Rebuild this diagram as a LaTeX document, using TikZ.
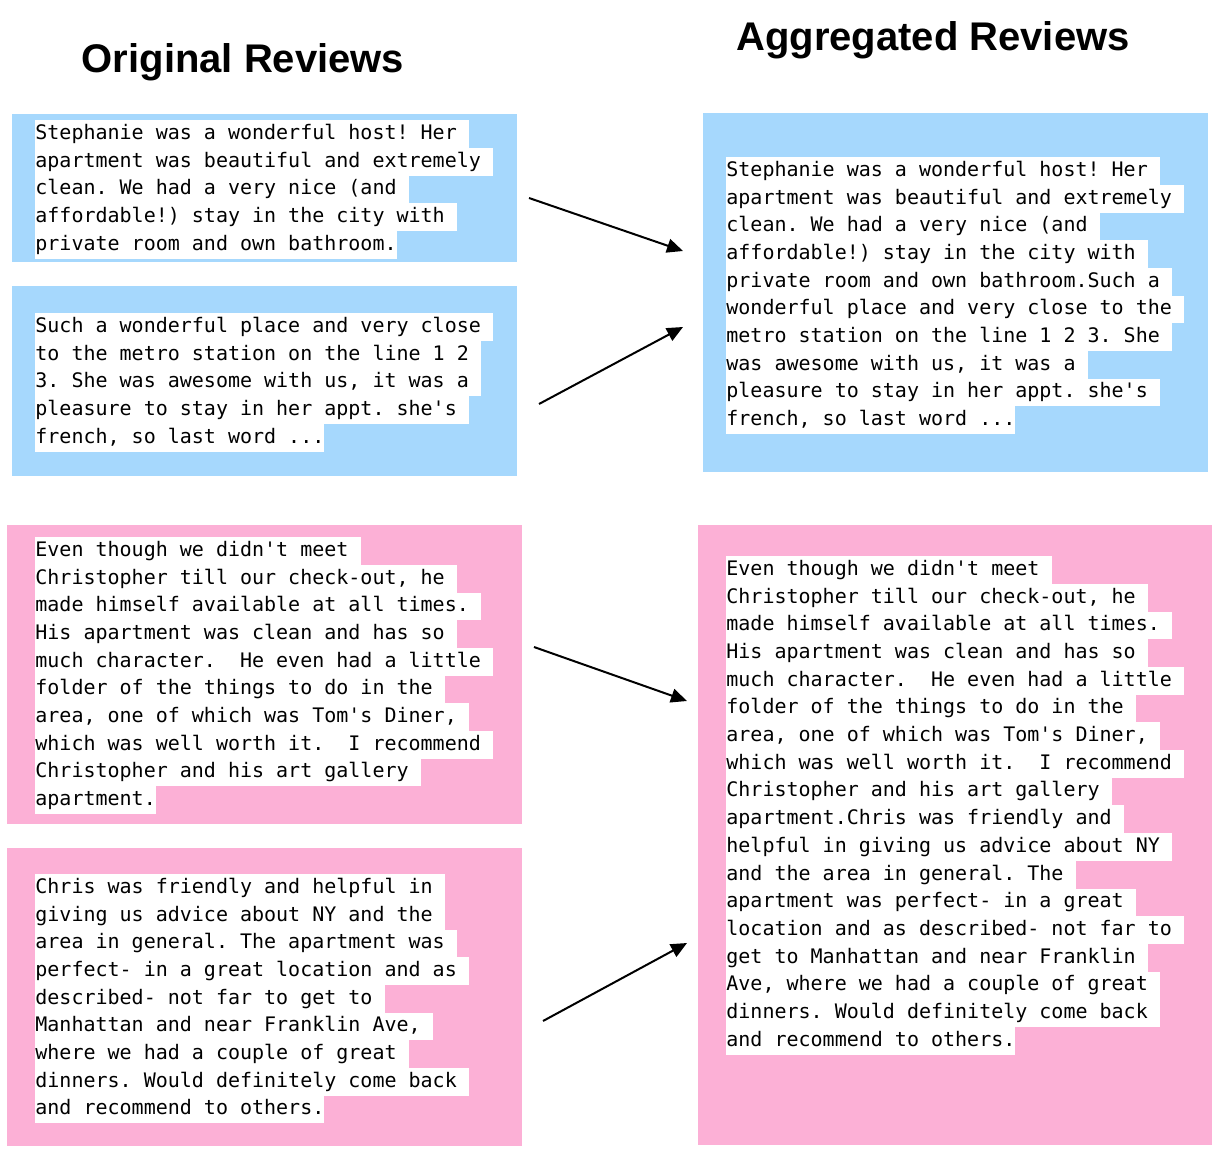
\documentclass[tikz,border=0pt]{standalone}
\usepackage{fontspec}
\setmainfont{Liberation Sans}
\setmonofont{DejaVu Sans Mono}
\usetikzlibrary{arrows.meta}

\definecolor{revblue}{RGB}{166,216,253}
\definecolor{revpink}{RGB}{252,176,214}

\tikzset{
  revline/.style={anchor=west, fill=white, inner sep=0pt, text height=9.6pt, text depth=4.25pt,
    font=\ttfamily\fontsize{10}{12}\selectfont, text=black, yshift=-1pt},
  revtitle/.style={font=\bfseries\fontsize{20}{24}\selectfont},
  revarrow/.style={line width=1pt, -{Triangle[length=8pt, width=7pt]}}
}

% lines of one review: name, x, y of first line, list of lines
\newcommand{\reviewtext}[4]{%
  \foreach \txt [count=\i] in {#4}
    \node[revline] (#1\i) at (#2, {#3+(\i-1)*27.7}) {\txt};
}
\newcommand{\revdots}{...}
\newcommand{\revsp}{\hbox{\ }}

\begin{document}
\begin{tikzpicture}[x=0.5pt, y=-0.5pt]
  \useasboundingbox (0,0) rectangle (1230,1166);

  \node[revtitle] (TO) at (243,62) {Original Reviews};
  \node[revtitle] (TA) at (933,40) {Aggregated Reviews};

  \fill[revblue] (12,114) rectangle (517,262);
  \fill[revblue] (12,286) rectangle (517,476);
  \fill[revblue] (703,113) rectangle (1208,472);
  \fill[revpink] (7,525) rectangle (522,824);
  \fill[revpink] (7,848) rectangle (522,1146);
  \fill[revpink] (698,525) rectangle (1212,1145);

  \reviewtext{b}{35}{132}{
    {Stephanie was a wonderful host! Her\revsp},
    {apartment was beautiful and extremely\revsp},
    {clean. We had a very nice (and\revsp},
    {affordable!) stay in the city with\revsp},
    {private room and own bathroom.}}

  \reviewtext{c}{35}{325}{
    {Such a wonderful place and very close\revsp},
    {to the metro station on the line 1 2\revsp},
    {3. She was awesome with us, it was a\revsp},
    {pleasure to stay in her appt. she's\revsp},
    {french, so last word \revdots}}

  \reviewtext{ba}{726}{169}{
    {Stephanie was a wonderful host! Her\revsp},
    {apartment was beautiful and extremely\revsp},
    {clean. We had a very nice (and\revsp},
    {affordable!) stay in the city with\revsp},
    {private room and own bathroom.Such a\revsp},
    {wonderful place and very close to the\revsp},
    {metro station on the line 1 2 3. She\revsp},
    {was awesome with us, it was a\revsp},
    {pleasure to stay in her appt. she's\revsp},
    {french, so last word \revdots}}

  \reviewtext{p}{35}{549}{
    {Even though we didn't meet\revsp},
    {Christopher till our check-out, he\revsp},
    {made himself available at all times.\revsp},
    {His apartment was clean and has so\revsp},
    {much character.\ \ He even had a little\revsp},
    {folder of the things to do in the\revsp},
    {area, one of which was Tom's Diner,\revsp},
    {which was well worth it.\ \ I recommend\revsp},
    {Christopher and his art gallery\revsp},
    {apartment.}}

  \reviewtext{q}{35}{886}{
    {Chris was friendly and helpful in\revsp},
    {giving us advice about NY and the\revsp},
    {area in general. The apartment was\revsp},
    {perfect- in a great location and as\revsp},
    {described- not far to get to\revsp},
    {Manhattan and near Franklin Ave,\revsp},
    {where we had a couple of great\revsp},
    {dinners. Would definitely come back\revsp},
    {and recommend to others.}}

  \reviewtext{pa}{726}{568}{
    {Even though we didn't meet\revsp},
    {Christopher till our check-out, he\revsp},
    {made himself available at all times.\revsp},
    {His apartment was clean and has so\revsp},
    {much character.\ \ He even had a little\revsp},
    {folder of the things to do in the\revsp},
    {area, one of which was Tom's Diner,\revsp},
    {which was well worth it.\ \ I recommend\revsp},
    {Christopher and his art gallery\revsp},
    {apartment.Chris was friendly and\revsp},
    {helpful in giving us advice about NY\revsp},
    {and the area in general. The\revsp},
    {apartment was perfect- in a great\revsp},
    {location and as described- not far to\revsp},
    {get to Manhattan and near Franklin\revsp},
    {Ave, where we had a couple of great\revsp},
    {dinners. Would definitely come back\revsp},
    {and recommend to others.}}

  \coordinate (A1) at (529,198);
  \coordinate (A2) at (539,404);
  \coordinate (A3) at (534,647);
  \coordinate (A4) at (543,1021);
  \coordinate (E1) at (683,251);
  \coordinate (E2) at (683,327);
  \coordinate (E3) at (687,701);
  \coordinate (E4) at (687,943);

  \draw[revarrow] (A1) -- (E1);
  \draw[revarrow] (A2) -- (E2);
  \draw[revarrow] (A3) -- (E3);
  \draw[revarrow] (A4) -- (E4);
\end{tikzpicture}
\end{document}
